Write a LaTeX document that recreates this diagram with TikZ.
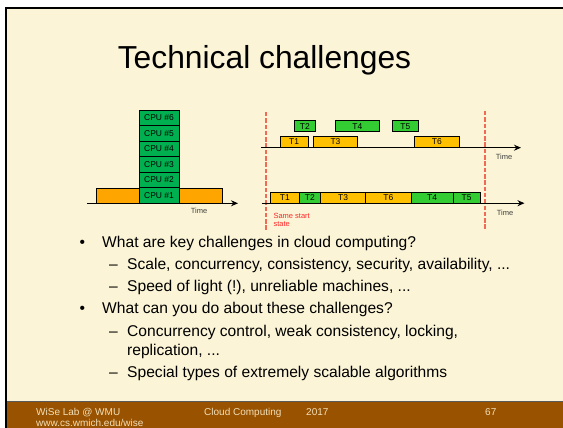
\documentclass[tikz,border=0pt]{standalone}
\usepackage{fontspec}
\setmainfont{Liberation Sans}
\usetikzlibrary{arrows.meta}
\definecolor{cream}{HTML}{FBF4D6}
\definecolor{cpugreen}{HTML}{00B050}
\definecolor{lorange}{HTML}{FFA500}
\definecolor{tyellow}{HTML}{FFC000}
\definecolor{tgreen}{HTML}{33CC33}
\definecolor{footbrown}{HTML}{985200}
\definecolor{foottext}{HTML}{F3DFB8}
\definecolor{dashred}{HTML}{F06A55}
\tikzset{
  box/.style={draw=black, line width=0.8pt, inner sep=0pt, font=\fontsize{8.5}{9}\selectfont},
  cpubox/.style={box, fill=cpugreen, minimum width=40pt, minimum height=15.55pt},
  axis/.style={line width=1.3pt, -{Stealth[length=7pt,width=6pt]}},
  timelbl/.style={font=\fontsize{7.5}{8}\selectfont, text=black!75, inner sep=0pt},
  bodytext/.style={font=\fontsize{15.6}{18}\selectfont, anchor=base west, inner sep=0pt},
  footer/.style={font=\fontsize{10}{11}\selectfont, text=foottext, anchor=base west, inner sep=0pt},
  reddash/.style={draw=dashred, line width=1.6pt, dash pattern=on 4.5pt off 1.8pt},
}
\begin{document}
\begin{tikzpicture}[x=1pt,y=-1pt]
\useasboundingbox (0,0) rectangle (563,428);
% background
\fill[white] (0,0) rectangle (563,428);
\fill[cream] (6,8) rectangle (563,402);
\fill[footbrown] (6,402) rectangle (563,428);
\draw[black!65, line width=1pt] (6,401.5) -- (563,401.5);
\fill[black] (5,7) rectangle (563,9);
\fill[black] (5,7) rectangle (7,428);
% title
\node[font=\fontsize{31.8}{34}\selectfont, anchor=base, inner sep=0pt] (title) at (264.5,69) {Technical challenges};
% left diagram
\node[box, fill=lorange, minimum width=43pt, minimum height=15.3pt] (ol) at (117.5,195.65) {};
\node[box, fill=lorange, minimum width=43pt, minimum height=15.3pt] (or) at (200.5,195.65) {};
\node[cpubox] (c1) at (159,195.5) {CPU \#1};
\node[cpubox] (c2) at (159,180.0) {CPU \#2};
\node[cpubox] (c3) at (159,164.4) {CPU \#3};
\node[cpubox] (c4) at (159,148.9) {CPU \#4};
\node[cpubox] (c5) at (159,133.3) {CPU \#5};
\node[cpubox] (c6) at (159,117.8) {CPU \#6};
\coordinate (la0) at (87,203.3);
\coordinate (la1) at (238,203.3);
\draw[axis] (la0) -- (la1);
\node[timelbl] (lt) at (199,211) {Time};
% right diagram: dashed lines
\coordinate (d1a) at (266,112);
\coordinate (d1b) at (266,230);
\coordinate (d2a) at (485,111);
\coordinate (d2b) at (485,229);
\draw[reddash] (d1a) -- (d1b);
\draw[reddash] (d2a) -- (d2b);
% top timeline
\node[box, fill=tyellow, minimum width=28.3pt, minimum height=11.7pt] (a1) at (294.15,141.85) {T1};
\node[box, fill=tyellow, minimum width=44.4pt, minimum height=11.7pt] (a3) at (335.5,141.85) {T3};
\node[box, fill=tyellow, minimum width=45pt, minimum height=11.7pt] (a6) at (436.8,141.85) {T6};
\node[box, fill=tgreen, minimum width=21.7pt, minimum height=11pt] (a2) at (304.85,126.2) {T2};
\node[box, fill=tgreen, minimum width=44pt, minimum height=11pt] (a4) at (357.3,126.2) {T4};
\node[box, fill=tgreen, minimum width=26pt, minimum height=11pt] (a5) at (405.3,126.2) {T5};
\coordinate (ta0) at (261,147.7);
\coordinate (ta1) at (521,147.7);
\draw[axis] (ta0) -- (ta1);
\node[timelbl] (tt) at (504,156.7) {Time};
% bottom timeline
\node[box, fill=tyellow, minimum width=28.3pt, minimum height=11pt] (b1) at (284.85,197.5) {T1};
\node[box, fill=tgreen, minimum width=21.7pt, minimum height=11pt] (b2) at (309.85,197.5) {T2};
\node[box, fill=tyellow, minimum width=45pt, minimum height=11pt] (b3) at (343.2,197.5) {T3};
\node[box, fill=tyellow, minimum width=45.3pt, minimum height=11pt] (b6) at (388.35,197.5) {T6};
\node[box, fill=tgreen, minimum width=42.3pt, minimum height=11pt] (b4) at (432.15,197.5) {T4};
\node[box, fill=tgreen, minimum width=26.7pt, minimum height=11pt] (b5) at (466.65,197.5) {T5};
\coordinate (ba0) at (261.7,203.2);
\coordinate (ba1) at (524.5,203.2);
\draw[axis] (ba0) -- (ba1);
\node[timelbl] (bt) at (505,212.7) {Time};
\node[font=\fontsize{7.5}{8}\selectfont, text=red!85, anchor=north west, inner sep=0pt, align=left] (ss) at (273.3,213.5) {Same start\\[-0.5pt]state};
% bullets
\node[bodytext] (b1m) at (79.5,247.7) {•};
\node[bodytext] (b1t) at (102,247.7) {What are key challenges in cloud computing?};
\node[bodytext] (s1m) at (109,269.3) {–};
\node[bodytext] (s1t) at (127,269.3) {Scale, concurrency, consistency, security, availability, ...};
\node[bodytext] (s2m) at (109,291.3) {–};
\node[bodytext] (s2t) at (127,291.3) {Speed of light (!), unreliable machines, ...};
\node[bodytext] (b2m) at (79.5,313) {•};
\node[bodytext] (b2t) at (102,313) {What can you do about these challenges?};
\node[bodytext] (s3m) at (109,336.7) {–};
\node[bodytext] (s3t) at (127,336.7) {Concurrency control, weak consistency, locking,};
\node[bodytext] (s3u) at (127,355.7) {replication, ...};
\node[bodytext] (s4m) at (109,377.7) {–};
\node[bodytext] (s4t) at (127,377.7) {Special types of extremely scalable algorithms};
% footer
\node[footer] (f1) at (36,415) {WiSe Lab @ WMU};
\node[footer] (f2) at (36,426) {www.cs.wmich.edu/wise};
\node[footer] (f3) at (204,415) {Cloud Computing};
\node[footer] (f4) at (306,415) {2017};
\node[footer] (f5) at (485,415) {67};
\end{tikzpicture}
\end{document}
